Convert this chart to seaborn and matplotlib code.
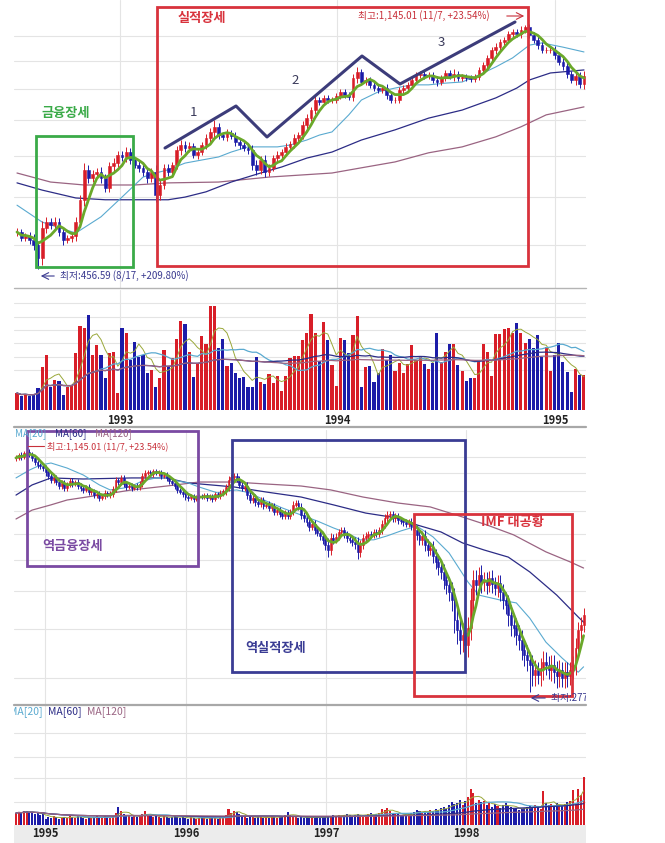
import numpy as np
import pandas as pd
import matplotlib
matplotlib.use("Agg")
import matplotlib.pyplot as plt
from matplotlib.patches import Rectangle
from matplotlib.ticker import FixedLocator, NullLocator, NullFormatter
import seaborn as sns

sns.set_theme(style="white")
plt.rcParams["font.family"] = ["Noto Sans CJK KR", "DejaVu Sans"]
plt.rcParams["axes.unicode_minus"] = False

# ---------------- data : 1992-1995 (weekly KOSPI) ----------------
top_close = [525, 513, 517, 510, 500, 476, 533, 545, 539, 545,
             525, 510, 513, 517, 545, 593, 664, 644, 654, 659,
             644, 620, 674, 681, 702, 697, 710, 689, 676, 669,
             659, 644, 659, 604, 627, 669, 659, 676, 716, 729,
             721, 726, 702, 710, 729, 749, 766, 781, 757, 752,
             763, 754, 737, 729, 721, 716, 676, 664, 689, 659,
             669, 694, 702, 710, 724, 732, 749, 757, 786, 807,
             832, 864, 858, 871, 864, 864, 877, 891, 881, 874,
             939, 961, 925, 932, 915, 904, 897, 904, 881, 864,
             864, 897, 904, 915, 932, 950, 953, 946, 950, 932,
             925, 939, 957, 946, 953, 939, 943, 939, 935, 943,
             968, 986, 1013, 1044, 1055, 1076, 1084, 1109, 1117, 1109,
             1125, 1138, 1104, 1084, 1063, 1044, 1044, 1044, 1024, 997,
             983, 953, 932, 946, 918, 946]
top_wick = [1.5, 1.2, 1.0, 1.5, 2.0, 1.5, 2.5, 2.0, 1.5, 2.0,
            1.5, 2.0, 1.2, 1.5, 2.0, 2.0, 2.5, 2.0, 1.5, 1.5,
            2.0, 1.5, 1.5, 2.0, 1.5, 1.5, 2.0, 1.5, 1.2, 1.5,
            1.5, 2.0, 1.5, 2.5, 2.0, 1.5, 1.5, 1.2, 1.5, 2.0,
            1.5, 1.5, 1.2, 1.5, 1.2, 1.5, 1.5, 2.5, 1.5, 1.2,
            1.5, 1.2, 1.5, 1.5, 1.2, 1.5, 2.0, 2.0, 1.5, 2.0,
            1.5, 1.2, 1.5, 1.2, 1.5, 1.2, 1.5, 1.2, 1.5, 1.5,
            1.2, 1.5, 1.2, 1.0, 1.2, 1.0, 1.2, 1.2, 1.0, 1.2,
            1.5, 2.0, 1.2, 1.0, 1.2, 1.2, 1.0, 1.2, 1.5, 1.2,
            1.0, 1.2, 1.0, 1.2, 1.0, 1.2, 1.0, 1.2, 1.0, 1.2,
            1.5, 1.2, 1.0, 1.2, 2.0, 1.0, 1.2, 1.0, 1.2, 1.0,
            1.2, 1.0, 1.2, 1.0, 1.5, 1.2, 1.0, 1.2, 1.0, 1.2,
            1.5, 1.0, 1.2, 1.0, 1.5, 1.2, 1.0, 1.2, 1.5, 1.2,
            1.5, 1.5, 1.2, 2.0, 1.5, 2.0]
top_vol = [17, 14, 16, 14, 16, 22, 43, 55, 23, 30,
           29, 15, 23, 25, 57, 84, 82, 95, 55, 65,
           55, 32, 57, 58, 17, 82, 77, 50, 68, 53,
           55, 37, 40, 23, 32, 60, 44, 52, 71, 89,
           86, 58, 33, 46, 74, 66, 104, 104, 62, 71,
           44, 47, 37, 32, 33, 23, 23, 53, 28, 26,
           36, 27, 34, 19, 34, 52, 54, 54, 70, 77,
           96, 77, 49, 88, 70, 45, 24, 72, 70, 57,
           75, 94, 23, 43, 44, 28, 37, 61, 50, 55,
           39, 47, 37, 46, 65, 50, 53, 46, 41, 47,
           77, 48, 58, 66, 66, 45, 39, 29, 32, 32,
           49, 66, 58, 34, 76, 76, 81, 82, 77, 87,
           77, 67, 71, 62, 75, 53, 63, 39, 55, 67,
           48, 38, 18, 41, 35, 35]
top_low_marks = {5: 456.59}
top_high_marks = {121: 1145.01}

top_ma20_idx = [0, 6, 14, 20, 25, 30, 33, 36, 40, 44, 48, 51, 55, 58, 62, 65, 69,
                72, 75, 79, 82, 86, 90, 94, 98, 102, 106, 110, 114, 118, 122, 125, 130, 135]
top_ma20 = [581, 545, 523, 556, 599, 646, 656, 664, 681, 689, 697, 710, 724, 724, 724, 729, 743,
            757, 766, 817, 864, 891, 904, 915, 915, 921, 925, 950, 979, 1013, 1063, 1072, 1055, 1036]
top_ma60_idx = [0, 6, 14, 21, 36, 40, 45, 51, 58, 63, 69, 75, 82, 90, 98, 106, 114, 119, 122, 127, 135]
top_ma60 = [632, 615, 597, 593, 593, 599, 611, 634, 656, 671, 694, 710, 743, 772, 807, 832, 871, 904, 932, 957, 968]
top_ma120_idx = [0, 8, 16, 28, 36, 48, 60, 75, 82, 90, 98, 106, 114, 120, 126, 135]
top_ma120 = [656, 634, 627, 627, 632, 634, 646, 656, 669, 684, 708, 724, 752, 781, 817, 842]

top_years = ["1993", "1994", "1995"]
top_year_pos = [24.5, 76.2, 128.1]

# ---------------- data : 1994-1998 (weekly KOSPI) ----------------
bot_close = [1093, 1112, 1099, 1125, 1132, 1118, 1093, 1067, 1048, 1042,
             1030, 1006, 983, 960, 972, 949, 927, 944, 916, 933,
             955, 938, 949, 927, 916, 906, 922, 895, 900, 879,
             885, 864, 874, 890, 879, 885, 911, 960, 949, 972,
             938, 922, 927, 916, 927, 922, 938, 983, 1001, 1006,
             995, 1012, 1001, 1006, 983, 989, 972, 955, 944, 927,
             906, 895, 885, 869, 864, 874, 859, 869, 874, 869,
             879, 864, 874, 859, 885, 874, 890, 900, 922, 960,
             977, 983, 966, 933, 916, 927, 879, 854, 864, 844,
             834, 854, 825, 830, 815, 825, 796, 805, 787, 778,
             791, 778, 796, 830, 839, 820, 782, 768, 750, 729,
             742, 716, 704, 692, 676, 656, 637, 684, 676, 688,
             708, 716, 696, 684, 676, 668, 660, 630, 656, 684,
             692, 700, 696, 708, 700, 716, 742, 768, 782, 787,
             768, 778, 759, 755, 750, 742, 750, 733, 716, 696,
             676, 692, 656, 637, 645, 615, 594, 577, 560, 534,
             519, 498, 475, 422, 398, 376, 387, 365, 403, 475,
             534, 519, 550, 528, 534, 519, 540, 522, 509, 525,
             498, 475, 461, 435, 410, 403, 387, 376, 355, 344,
             334, 325, 306, 315, 306, 319, 330, 325, 315, 325,
             311, 304, 315, 301, 311, 304, 315, 325, 359, 398,
             410, 435]
bot_wick = [1.5, 1.2, 1.5, 1.2, 1.0, 1.5, 1.5, 2.0, 1.5, 1.5,
            1.5, 2.0, 2.0, 1.5, 2.0, 1.5, 2.0, 1.5, 2.0, 1.5,
            1.5, 1.5, 1.2, 1.5, 1.5, 1.5, 1.2, 1.5, 1.5, 1.5,
            1.5, 1.5, 1.2, 1.5, 1.2, 1.5, 1.5, 2.0, 1.5, 1.5,
            1.5, 1.5, 1.2, 1.5, 1.2, 1.5, 1.5, 2.0, 1.5, 1.2,
            1.2, 1.5, 1.2, 1.5, 1.5, 1.2, 1.5, 1.5, 1.5, 1.5,
            1.5, 1.2, 1.5, 1.5, 2.0, 1.2, 1.5, 1.2, 1.2, 1.2,
            1.2, 1.5, 1.2, 1.5, 1.2, 1.2, 1.5, 1.5, 2.0, 2.5,
            2.0, 2.0, 2.0, 2.0, 1.5, 2.0, 2.5, 2.0, 2.0, 2.5,
            2.0, 2.0, 2.0, 1.5, 2.0, 1.5, 2.0, 1.5, 2.0, 2.0,
            2.0, 2.0, 2.0, 2.0, 1.5, 2.0, 2.5, 2.0, 2.0, 2.5,
            2.0, 2.5, 2.0, 2.5, 2.5, 3.0, 4.0, 3.0, 2.5, 2.0,
            2.0, 2.0, 2.0, 2.5, 2.0, 2.5, 3.0, 4.0, 3.0, 2.5,
            2.0, 2.0, 2.0, 2.0, 2.0, 2.0, 2.5, 2.5, 2.5, 2.0,
            2.0, 2.0, 2.0, 1.5, 2.0, 2.0, 2.0, 2.5, 2.5, 3.0,
            3.0, 3.0, 3.5, 3.5, 3.0, 4.0, 4.0, 4.5, 4.0, 5.0,
            5.0, 5.0, 6.0, 7.0, 8.0, 8.0, 7.0, 8.0, 7.0, 7.0,
            6.0, 6.0, 5.0, 6.0, 5.0, 5.0, 4.0, 5.0, 4.0, 5.0,
            5.0, 5.0, 5.0, 6.0, 6.0, 5.0, 6.0, 6.0, 6.0, 6.0,
            6.0, 5.0, 6.0, 6.0, 5.0, 6.0, 7.0, 6.0, 5.0, 6.0,
            6.0, 7.0, 6.0, 5.0, 6.0, 6.0, 5.0, 5.0, 6.0, 5.0,
            5.0, 4.0]
bot_vol = [12, 13, 12, 14, 14, 12, 13, 11, 12, 10, 11,
           6, 8, 7, 9, 8, 6, 7, 8, 7, 9,
           8, 7, 9, 8, 7, 6, 8, 7, 8, 9,
           7, 8, 9, 8, 7, 9, 12, 18, 14, 11,
           9, 10, 8, 9, 8, 10, 11, 14, 10, 9,
           8, 9, 8, 7, 9, 8, 7, 8, 9, 8,
           7, 8, 7, 6, 8, 7, 6, 7, 8, 7,
           6, 7, 8, 7, 6, 8, 7, 10, 16, 12,
           14, 13, 11, 9, 8, 7, 9, 8, 7, 8,
           8, 7, 8, 7, 9, 8, 7, 8, 9, 10,
           13, 10, 9, 8, 7, 8, 7, 8, 7, 8,
           7, 8, 7, 8, 9, 8, 9, 10, 9, 10,
           9, 10, 11, 10, 9, 10, 11, 10, 9, 10,
           11, 12, 10, 11, 12, 16, 15, 17, 14, 12,
           11, 12, 10, 9, 10, 11, 12, 13, 15, 14,
           12, 14, 13, 15, 14, 16, 15, 17, 18, 16,
           20, 23, 21, 22, 25, 20, 24, 28, 36, 32,
           22, 25, 23, 24, 20, 22, 18, 21, 19, 17,
           20, 22, 19, 18, 16, 17, 15, 16, 17, 18,
           19, 17, 20, 18, 16, 34, 22, 20, 21, 19,
           22, 20, 19, 21, 23, 24, 35, 22, 36, 30, 48]
bot_low_marks = {191: 277.37}
bot_high_marks = {4: 1145.01}

bot_ma20_idx = [0, 5, 9, 13, 19, 25, 31, 35, 40, 43, 47, 52, 56, 60, 64, 68, 75, 78, 82, 87, 93,
                99, 106, 112, 118, 123, 128, 133, 138, 143, 149, 155, 161, 168, 172, 180, 186,
                191, 197, 203, 209, 211]
bot_ma20 = [972, 1018, 1048, 1061, 1030, 989, 933, 906, 916, 927, 955, 972, 972, 955, 944, 922, 890,
            900, 906, 890, 849, 815, 782, 755, 725, 704, 676, 676, 692, 712, 733, 688, 626, 528,
            489, 475, 467, 427, 371, 338, 311, 321]
bot_ma60_idx = [0, 6, 13, 25, 43, 56, 64, 81, 93, 106, 118, 130, 142, 149, 158, 166, 174, 183,
                191, 201, 209, 211]
bot_ma60 = [879, 933, 972, 966, 972, 972, 944, 922, 895, 869, 830, 791, 768, 738, 708, 664, 637,
            611, 560, 489, 430, 417]
bot_ma120_idx = [0, 6, 13, 19, 31, 43, 56, 68, 81, 93, 106, 117, 129, 142, 154, 166, 175, 185,
                 197, 206, 211]
bot_ma120 = [764, 805, 830, 854, 879, 906, 927, 949, 949, 938, 927, 906, 869, 839, 820, 773, 738,
             696, 630, 594, 573]

bot_years = ["1995", "1996", "1997", "1998"]
bot_year_pos = [10.8, 63.2, 115.2, 167.3]

# ---------------- style ----------------
RED = "#d81e28"
BLUE = "#1c1ca8"
GREEN5 = "#6aa82a"
C20 = "#5aaad0"
C60 = "#2c2c86"
C120 = "#9a6482"
OLIVE = "#9aa83a"
GRID = "#e4e4e4"
W, H = 665, 843

fig = plt.figure(figsize=(W / 100, H / 100), dpi=100)
fig.patch.set_facecolor("white")


def px_axes(x0, y0, x1, y1):
    return fig.add_axes([x0 / W, 1 - y1 / H, (x1 - x0) / W, (y1 - y0) / H])


def candle_frame(closes, wicks, low_marks, high_marks):
    df = pd.DataFrame({"close": closes, "wick": wicks})
    df["pos"] = np.arange(len(df))
    df["open"] = df["close"].shift(1).fillna(df["close"])
    hi = df[["open", "close"]].max(axis=1)
    lo = df[["open", "close"]].min(axis=1)
    df["high"] = hi * (1 + df["wick"] / 100)
    df["low"] = lo * (1 - df["wick"] / 100)
    for k, v in low_marks.items():
        df.loc[k, "low"] = v
    for k, v in high_marks.items():
        df.loc[k, "high"] = v
    df["body_lo"] = lo
    df["body_h"] = hi - lo
    df["up"] = df["close"] >= df["open"]
    df["ma5"] = df["close"].rolling(5, min_periods=1).mean()
    return df


def clean(ax, xlim, ylim, ygrid, xgrid, log=False):
    if log:
        ax.set_yscale("log")
    ax.set_xlim(*xlim)
    ax.set_ylim(*ylim)
    ax.yaxis.set_major_locator(FixedLocator(ygrid))
    ax.yaxis.set_minor_locator(NullLocator())
    ax.yaxis.set_major_formatter(NullFormatter())
    ax.xaxis.set_major_locator(FixedLocator(xgrid))
    ax.xaxis.set_major_formatter(NullFormatter())
    ax.tick_params(length=0)
    ax.grid(True, color=GRID, lw=0.8)
    ax.set_axisbelow(True)
    for s in ax.spines.values():
        s.set_visible(False)
    ax.set_facecolor("white")


def price_panel(ax, df, mas, width):
    colors = np.where(df["up"], RED, BLUE)
    for idx, vals, col, lw in mas:
        sns.lineplot(x=idx, y=vals, ax=ax, color=col, lw=lw, zorder=2)
    ax.vlines(df["pos"], df["low"], df["high"], colors=colors, lw=0.7, zorder=3)
    ax.bar(df["pos"], df["body_h"], bottom=df["body_lo"], width=width, color=colors,
           edgecolor=colors, linewidth=0.4, zorder=4)
    sns.lineplot(x=df["pos"], y=df["ma5"], ax=ax, color=GREEN5, lw=2.0, zorder=5)
    ax.set_xlabel("")
    ax.set_ylabel("")


def volume_panel(ax, df, vols, width):
    colors = np.where(df["up"], RED, BLUE)
    v = pd.Series(vols, dtype=float)
    ax.bar(df["pos"], v, width=width, color=colors, linewidth=0, zorder=2)
    for n, col, lw in [(5, OLIVE, 0.7), (20, C20, 0.9), (60, C60, 0.9), (120, C120, 0.9)]:
        sns.lineplot(x=df["pos"], y=v.rolling(n, min_periods=1).mean(), ax=ax,
                     color=col, lw=lw, zorder=3)
    ax.set_xlabel("")
    ax.set_ylabel("")


top = candle_frame(top_close, top_wick, top_low_marks, top_high_marks)
bot = candle_frame(bot_close, bot_wick, bot_low_marks, bot_high_marks)

# top price
ax1 = px_axes(14, 0, 586, 288)
price_panel(ax1, top, [(top_ma120_idx, top_ma120, C120, 0.9),
                       (top_ma60_idx, top_ma60, C60, 0.9),
                       (top_ma20_idx, top_ma20, C20, 0.8)], 0.7)
clean(ax1, (-0.714, 135.48), (425, 1260.5), [500, 600, 700, 800, 900, 1000, 1100],
      top_year_pos, log=True)

# top volume
ax2 = px_axes(14, 290, 586, 410)
volume_panel(ax2, top, top_vol, 0.72)
clean(ax2, (-0.714, 135.48), (0, 120), [40, 53, 67, 80, 93, 107], top_year_pos)
ax2.set_xticks(top_year_pos, top_years)
ax2.tick_params(axis="x", pad=3, labelsize=8, colors="#222222")
for t in ax2.get_xticklabels():
    t.set_fontweight("bold")

# bottom price
ax3 = px_axes(14, 430, 586, 705)
price_panel(ax3, bot, [(bot_ma120_idx, bot_ma120, C120, 0.9),
                       (bot_ma60_idx, bot_ma60, C60, 0.9),
                       (bot_ma20_idx, bot_ma20, C20, 0.8)], 0.7)
clean(ax3, (-0.743, 211.9), (256.6, 1287.6), [300, 400, 500, 600, 700, 800, 900, 1000, 1100],
      bot_year_pos, log=True)

# bottom volume
ax4 = px_axes(14, 705, 586, 825)
volume_panel(ax4, bot, bot_vol, 0.75)
clean(ax4, (-0.743, 211.9), (0, 120), [23, 47, 68, 92], bot_year_pos)
ax4.set_xticks(bot_year_pos, bot_years)
ax4.tick_params(axis="x", pad=1.5, labelsize=8, colors="#222222")
for t in ax4.get_xticklabels():
    t.set_fontweight("bold")

# grey strip behind the lower date axis
fig.add_artist(Rectangle((14 / W, 0), 572 / W, 18 / H, transform=fig.transFigure,
                         facecolor="#ececec", edgecolor="none", zorder=-1))

# ---------------- annotation overlay (pixel coordinates) ----------------
ov = fig.add_axes([0, 0, 1, 1], zorder=10)
ov.set_xlim(0, W)
ov.set_ylim(H, 0)
ov.axis("off")

for y, c, lw in [(288, "#b4b4b4", 1.0), (427, "#a8a8a8", 1.6), (705, "#a8a8a8", 1.6)]:
    ov.plot([14, 586], [y, y], color=c, lw=lw)

BOXRED = "#d8323c"
BOXGREEN = "#3aaa48"
BOXPURPLE = "#7a4aa2"
BOXNAVY = "#3a3c94"
ZIG = "#3c3c7a"

ov.add_patch(Rectangle((157, 7), 371, 259, fill=False, ec=BOXRED, lw=2.0))
ov.text(178, 18, "실적장세", color=BOXRED, fontsize=9.5, fontweight="bold", va="center")
ov.add_patch(Rectangle((36, 136), 97, 131, fill=False, ec=BOXGREEN, lw=2.0))
ov.text(41, 113, "금융장세", color=BOXGREEN, fontsize=9.5, fontweight="bold", va="center")

ov.plot([165, 236, 267, 362, 400, 515], [148, 106, 137, 56, 84, 22], color=ZIG, lw=2.2,
        solid_capstyle="round")
for xx, yy, s in [(193, 112, "1"), (295, 80, "2"), (441, 42, "3")]:
    ov.text(xx, yy, s, color="#3a3a5a", fontsize=9.5, ha="center", va="center")

ov.text(358, 16, "최고:1,145.01 (11/7, +23.54%)", color="#c8303a", fontsize=7, va="center")
ov.annotate("", xy=(527, 16), xytext=(504, 16),
            arrowprops=dict(arrowstyle="->", color="#c8303a", lw=0.8))
ov.annotate("", xy=(38, 276), xytext=(57, 276),
            arrowprops=dict(arrowstyle="->", color="#3a3a90", lw=0.8))
ov.text(60, 276, "최저:456.59 (8/17, +209.80%)", color="#3a3a90", fontsize=7, va="center")

# lower chart: legend line and the high-point note sit just below it
ov.text(15, 434, "MA[20]", color=C20, fontsize=7, va="center")
ov.text(55, 434, "MA[60]", color=C60, fontsize=7, va="center")
ov.text(95, 434, "MA[120]", color=C120, fontsize=7, va="center")
ov.plot([28, 44], [446, 446], color="#c8303a", lw=0.8)
ov.text(47, 446, "최고:1,145.01 (11/7, +23.54%)", color="#c8303a", fontsize=6.5, va="center")

ov.add_patch(Rectangle((27, 431), 171, 135, fill=False, ec=BOXPURPLE, lw=2.0))
ov.text(42, 546, "역금융장세", color=BOXPURPLE, fontsize=9.5, fontweight="bold", va="center")
ov.add_patch(Rectangle((232, 440), 233, 232, fill=False, ec=BOXNAVY, lw=2.0))
ov.text(245, 648, "역실적장세", color=BOXNAVY, fontsize=9.5, fontweight="bold", va="center")
ov.add_patch(Rectangle((414, 514), 158, 182, fill=False, ec=BOXRED, lw=2.0))
ov.text(481, 522, "IMF 대공황", color=BOXRED, fontsize=9.5, fontweight="bold", va="center")

ov.annotate("", xy=(528, 698), xytext=(548, 698),
            arrowprops=dict(arrowstyle="->", color="#3a3a90", lw=0.8))
low_txt = ov.text(551, 698, "최저:277.37 (6/16)", color="#3a3a90", fontsize=7, va="center",
                  clip_on=True)
low_txt.set_clip_box(ax3.bbox)

vol_leg = [(9, "MA[20]", C20), (48, "MA[60]", C60), (87, "MA[120]", C120)]
for xx, s, c in vol_leg:
    t = ov.text(xx, 712, s, color=c, fontsize=7.5, va="center", clip_on=True)
    t.set_clip_box(ax4.bbox)

fig.savefig("out.png", dpi=100, facecolor="white")
